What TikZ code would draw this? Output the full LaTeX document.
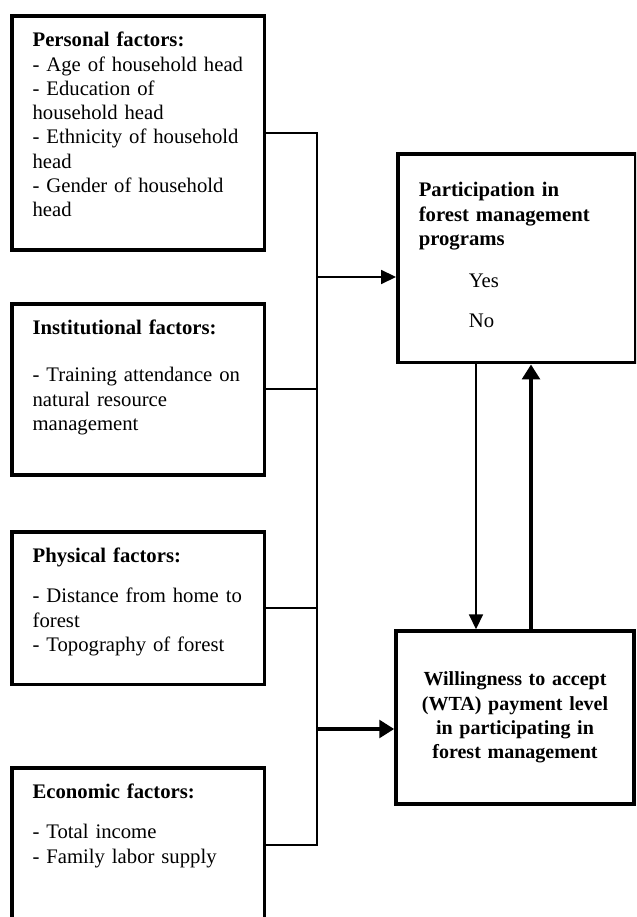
\documentclass[tikz,border=0pt]{standalone}
\usepackage{fontspec}
\setmainfont{Liberation Serif}
\usetikzlibrary{arrows.meta, positioning}
\tikzset{
  factorbox/.style={
    draw, line width=2pt, anchor=north west, align=left,
    text width=120.4pt, inner xsep=11.9pt, inner ysep=8.7pt, text height=9pt,
    font=\fontsize{11.8}{13.85}\selectfont
  },
  outcome/.style={
    draw, line width=2pt, text width=111.7pt, inner xsep=12pt,
    font=\fontsize{11.8}{13.85}\selectfont
  },
  link/.style={line width=0.9pt},
  flowthin/.style={-{Triangle[length=8.5pt, width=8pt]}, line width=0.9pt},
  flowthick/.style={-{Triangle[length=8.5pt, width=10pt]}, line width=2.8pt}
}
\begin{document}
\begin{tikzpicture}[x=0.57pt, y=-0.57pt]
  \useasboundingbox (0,0) rectangle (636,917);
  \clip (0,0) rectangle (636,917);
  \node[factorbox, text depth=107pt] (pers) at (10,14)
    {\textbf{Personal factors:}\\- Age of household head\\- Education of\\household head\\- Ethnicity of household\\head\\- Gender of household\\head};
  \node[factorbox, text depth=71.1pt] (inst) at (10,302)
    {\textbf{Institutional factors:}\\[12.9pt]- Training attendance on\\natural resource\\management};
  \node[factorbox, text depth=60.8pt] (phys) at (10,530)
    {\textbf{Physical factors:}\\[9pt]- Distance from home to\\forest\\- Topography of forest};
  \node[factorbox, text depth=61.4pt] (econ) at (10,766)
    {\textbf{Economic factors:}\\[9pt]- Total income\\- Family labor supply};
  \node[outcome, anchor=north west, align=left, inner ysep=8.7pt, text height=15.8pt, text depth=85.9pt] (part) at (396,152)
    {\textbf{Participation in}\\\textbf{forest management}\\\textbf{programs}\\[10pt]\hspace*{28.5pt}Yes\\[9pt]\hspace*{28.5pt}No};
  \node[outcome, align=center, text width=130pt, inner xsep=2.85pt, minimum height=98.6pt, font=\fontsize{11.4}{13.85}\selectfont\bfseries] (wta) at (515,717.5)
    {Willingness to accept\\(WTA) payment level\\in participating in\\forest management};
  \coordinate (bus) at (317,0);
  \coordinate (toPart) at (317,277);
  \coordinate (toWta) at (317,729);
  \coordinate (down) at (476,0);
  \coordinate (up) at (531,0);
  \draw[link] (pers.east) -- (pers.east -| bus) -- (econ.east -| bus) -- (econ.east);
  \draw[link] (inst.east) -- (inst.east -| bus);
  \draw[link] (phys.east) -- (phys.east -| bus);
  \draw[flowthin] (toPart) -- (toPart -| part.west);
  \draw[flowthick] (toWta) -- (toWta -| wta.west);
  \draw[flowthin] (part.south -| down) -- (wta.north -| down);
  \draw[flowthick] (wta.north -| up) -- (part.south -| up);
\end{tikzpicture}
\end{document}
